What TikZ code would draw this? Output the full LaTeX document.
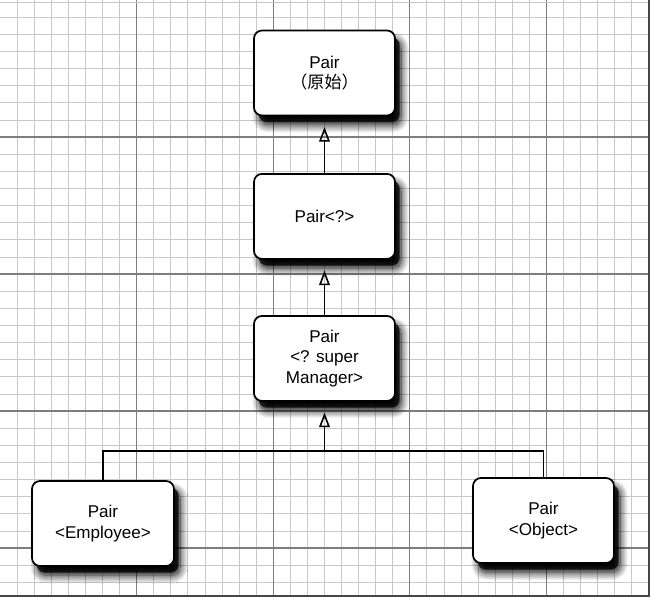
\documentclass[tikz,border=0pt]{standalone}
\usepackage{fontspec}
\setmainfont{Liberation Sans}
\newfontfamily\cjk{Noto Sans CJK SC}
\usetikzlibrary{arrows.meta,positioning,shadows,shadows.blur}
\definecolor{gridminor}{RGB}{200,200,200}
\definecolor{gridmajor}{RGB}{125,125,125}
\definecolor{pageedge}{RGB}{70,70,70}

\begin{document}
\begin{tikzpicture}[x=0.75pt, y=-0.75pt,
    pairbox/.style={draw=black, line width=1.3pt, fill=white, rounded corners=6pt,
        minimum width=105.75pt, minimum height=63.75pt, align=center,
        font=\fontsize{12.8}{15.5}\selectfont,
        blur shadow={shadow xshift=4.5pt, shadow yshift=-7pt, shadow blur radius=6pt,
            shadow blur steps=14, shadow opacity=100},
        drop shadow={shadow xshift=3.5pt, shadow yshift=-5pt, opacity=0.75, fill=black}},
    inherits/.style={line width=1.2pt, -{Triangle[open, length=11pt, width=8pt]}, shorten >=8pt},
    link/.style={line width=1.2pt}]
    \useasboundingbox (0,0) rectangle (653,599);

    % Graph paper
    \foreach \i in {1,...,38} {
        \draw[gridminor, line width=0.45pt] (17.07*\i,0) -- (17.07*\i,596);
    }
    \foreach \j in {1,...,34} {
        \draw[gridminor, line width=0.45pt] (0,17.125*\j) -- (649,17.125*\j);
    }
    \foreach \i in {1,...,4} {
        \draw[gridmajor, line width=0.8pt] (136.56*\i,0) -- (136.56*\i,596);
        \draw[gridmajor, line width=0.8pt] (0,137*\i) -- (649,137*\i);
    }
    \draw[gridminor, line width=0.6pt] (0,2) -- (649,2);
    \draw[pageedge, line width=1.6pt] (0,596) -- (649,596) -- (649,0);

    % Class boxes
    \node[pairbox] (top) at (324.5,73) {Pair\\{\cjk （原始）}};
    \node[pairbox, below=42.5pt of top] (q) {Pair<?>};
    \node[pairbox, below=41.5pt of q] (super) {Pair\\<? super\\Manager>};
    \node[pairbox, minimum width=106.5pt] (emp) at (103,523.5) {Pair\\<Employee>};
    \node[pairbox] (obj) at (543.5,520.5) {Pair\\<Object>};

    % Inheritance arrows
    \coordinate (fork) at (324.5,451);
    \draw[inherits] (q) -- (top);
    \draw[inherits] (super) -- (q);
    \draw[inherits] (fork) -- (super);
    \draw[link] (emp.north) |- (fork) -| (obj.north);
\end{tikzpicture}
\end{document}
